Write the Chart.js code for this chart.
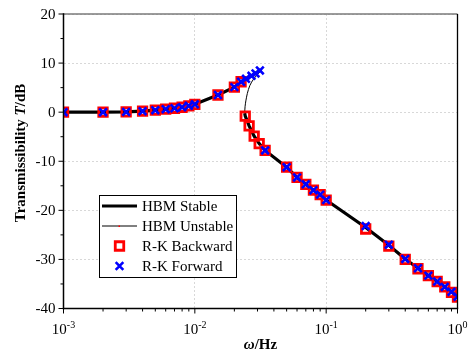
<!DOCTYPE html>
<html>
<head>
<meta charset="utf-8">
<script src="https://cdn.jsdelivr.net/npm/chart.js@4.4.0/dist/chart.umd.min.js"></script>
<style>
  html, body { margin: 0; padding: 0; background: #ffffff; }
  canvas { display: block; }
</style>
</head>
<body>
<canvas id="chart" width="472" height="353"></canvas>
<script>
// Axis ticks
const xMajorTicks = [0.001, 0.01, 0.1, 1];
const xTickExponents = ['-3', '-2', '-1', '0'];
const yMajorTicks = [-40, -30, -20, -10, 0, 10, 20];
const yMinorTicks = [-35, -25, -15, -5, 5, 15];

// HBM solution: upper stable branch, unstable branch, lower stable branch
const stableUpFreq = [0.001, 0.002, 0.003, 0.004, 0.005, 0.006, 0.007, 0.008, 0.009, 0.01, 0.015, 0.02, 0.0225, 0.0245, 0.027, 0.029, 0.0313, 0.0318];
const stableUpT    = [0, 0, 0.05, 0.2, 0.4, 0.6, 0.8, 1.0, 1.3, 1.6, 3.5, 5.1, 6.2, 6.8, 7.4, 7.9, 8.5, 8.7];
const unstableFreq = [0.0318, 0.0307, 0.0281, 0.0262, 0.0251, 0.02446, 0.02412, 0.02396];
const unstableT    = [8.7, 8.0, 6.8, 5.4, 3.8, 2.3, 1.1, -0.2];
const stableLowFreq = [0.02396, 0.0242, 0.0259, 0.0283, 0.0309, 0.0343, 0.05, 0.06, 0.07, 0.08, 0.09, 0.1, 0.2, 0.3, 0.4, 0.5, 0.6, 0.7, 0.8, 0.9, 1.0];
const stableLowT    = [-0.2, -0.8, -2.8, -4.9, -6.4, -7.8, -11.2, -13.3, -14.7, -15.9, -16.8, -17.9, -23.5, -27.1, -29.9, -31.8, -33.3, -34.5, -35.6, -36.6, -37.6];

// Runge-Kutta sweeps
const fwdFreq = [0.001, 0.002, 0.003, 0.004, 0.005, 0.006, 0.007, 0.008, 0.009, 0.01, 0.015, 0.02, 0.0225, 0.0245, 0.027, 0.029, 0.0313,
                 0.0343, 0.05, 0.06, 0.07, 0.08, 0.09, 0.1, 0.2, 0.3, 0.4, 0.5, 0.6, 0.7, 0.8, 0.9, 1.0];
const fwdT    = [0, 0, 0.05, 0.2, 0.4, 0.6, 0.8, 1.0, 1.3, 1.6, 3.5, 5.1, 6.2, 6.8, 7.4, 7.9, 8.5,
                 -7.8, -11.2, -13.3, -14.7, -15.9, -16.8, -17.9, -23.2, -27.0, -29.9, -31.8, -33.3, -34.5, -35.6, -36.6, -37.6];
const bwdFreq = [1.0, 0.9, 0.8, 0.7, 0.6, 0.5, 0.4, 0.3, 0.2, 0.1, 0.09, 0.08, 0.07, 0.06, 0.05, 0.0343, 0.0309, 0.0283, 0.0259, 0.0242,
                 0.0225, 0.02, 0.015, 0.01, 0.009, 0.008, 0.007, 0.006, 0.005, 0.004, 0.003, 0.002, 0.001];
const bwdT    = [-37.7, -36.7, -35.6, -34.5, -33.3, -31.9, -30.0, -27.3, -23.8, -17.9, -16.8, -15.9, -14.7, -13.3, -11.2, -7.8, -6.4, -4.9, -2.8, -0.8,
                 6.2, 5.1, 3.5, 1.6, 1.3, 1.0, 0.8, 0.6, 0.4, 0.2, 0.05, 0, 0];

const legendLabels = ['HBM Stable', 'HBM Unstable', 'R-K Backward', 'R-K Forward'];

const pts = (xs, ys) => xs.map((v, i) => ({ x: v, y: ys[i] }));
const stableData = pts(stableUpFreq, stableUpT).concat([{ x: 0.028, y: null }], pts(stableLowFreq, stableLowT));

const SERIF = '"Liberation Serif", "Times New Roman", serif';

function seg(ctx, x1, y1, x2, y2) {
  ctx.beginPath(); ctx.moveTo(x1, y1); ctx.lineTo(x2, y2); ctx.stroke();
}

function drawRuns(ctx, runs, x, y) {
  // runs: [[text, font], ...] drawn left to right starting at x
  let cx = x;
  runs.forEach(([t, f]) => { ctx.font = f; ctx.fillText(t, cx, y); cx += ctx.measureText(t).width; });
}
function runsWidth(ctx, runs) {
  return runs.reduce((w, [t, f]) => { ctx.font = f; return w + ctx.measureText(t).width; }, 0);
}

const axesPlugin = {
  id: 'axesDecor',
  afterDraw(chart) {
    const { ctx, chartArea: a, scales: { x, y } } = chart;
    ctx.save();
    ctx.lineCap = 'butt';

    // frame
    ctx.strokeStyle = '#7a7a7a'; ctx.lineWidth = 1.4;
    seg(ctx, a.left, a.top, a.right, a.top);
    ctx.strokeStyle = '#000'; ctx.lineWidth = 1.3;
    seg(ctx, a.right, a.top, a.right, a.bottom);
    ctx.lineWidth = 1.5;
    seg(ctx, a.left, a.top - 0.7, a.left, a.bottom + 0.7);
    seg(ctx, a.left - 0.7, a.bottom, a.right + 0.7, a.bottom);

    // tick marks
    ctx.lineWidth = 1;
    yMajorTicks.forEach(v => { const p = y.getPixelForValue(v); seg(ctx, a.left - 5, p, a.left, p); });
    yMinorTicks.forEach(v => { const p = y.getPixelForValue(v); seg(ctx, a.left - 3, p, a.left, p); });
    xMajorTicks.forEach(v => { const p = x.getPixelForValue(v); seg(ctx, p, a.bottom, p, a.bottom + 5); });
    for (let d = 0; d < xMajorTicks.length - 1; d++) {
      for (let m = 2; m <= 9; m++) {
        const p = x.getPixelForValue(xMajorTicks[d] * m);
        seg(ctx, p, a.bottom, p, a.bottom + 3);
      }
    }

    // tick labels
    ctx.fillStyle = '#000';
    ctx.font = '15px ' + SERIF;
    ctx.textAlign = 'right'; ctx.textBaseline = 'middle';
    yMajorTicks.forEach(v => ctx.fillText(String(v), a.left - 8, y.getPixelForValue(v) + 1));

    ctx.textAlign = 'left'; ctx.textBaseline = 'alphabetic';
    xMajorTicks.forEach((v, i) => {
      const runs = [['10', '15px ' + SERIF], [xTickExponents[i], '10px ' + SERIF]];
      const w = runsWidth(ctx, runs);
      const px = x.getPixelForValue(v) - w / 2;
      ctx.font = runs[0][1]; ctx.fillText(runs[0][0], px, a.bottom + 25);
      const w0 = ctx.measureText(runs[0][0]).width;
      ctx.font = runs[1][1]; ctx.fillText(runs[1][0], px + w0, a.bottom + 19);
    });

    // axis titles
    const B = 'bold 15px ' + SERIF, BI = 'italic bold 15px ' + SERIF;
    const xRuns = [['\u03c9', BI], ['/Hz', B]];
    const xw = runsWidth(ctx, xRuns);
    drawRuns(ctx, xRuns, (a.left + a.right) / 2 - xw / 2, a.bottom + 40);

    const yRuns = [['Transmissibility ', B], ['T', BI], ['/dB', B]];
    const yw = runsWidth(ctx, yRuns);
    ctx.save();
    ctx.translate(25, 153);
    ctx.rotate(-Math.PI / 2);
    drawRuns(ctx, yRuns, -yw / 2, 0);
    ctx.restore();

    // legend
    const lx = 99, ly = 195, lw = 137, lh = 82;
    ctx.fillStyle = '#fff'; ctx.fillRect(lx, ly, lw, lh);
    ctx.strokeStyle = '#000'; ctx.lineWidth = 1;
    ctx.strokeRect(lx + 0.5, ly + 0.5, lw, lh);
    const rows = [206, 226, 246, 266];
    const ds = chart.data.datasets;
    // line samples
    ctx.strokeStyle = '#000';
    ctx.lineWidth = ds[0].borderWidth; seg(ctx, 102, rows[0], 137, rows[0]);
    ctx.lineWidth = ds[1].borderWidth; seg(ctx, 102, rows[1], 137, rows[1]);
    ctx.fillStyle = '#ff0000'; ctx.fillRect(118.5, rows[1] - 0.5, 1.5, 1.5);
    // marker samples
    [2, 3].forEach((k, j) => {
      const d = ds[k];
      ctx.strokeStyle = d.borderColor; ctx.fillStyle = 'rgba(0,0,0,0)';
      ctx.lineWidth = d.borderWidth;
      Chart.helpers.drawPoint(ctx, { pointStyle: d.pointStyle, radius: d.pointRadius, rotation: 0, borderWidth: d.borderWidth }, 119.5, rows[2 + j]);
    });
    ctx.fillStyle = '#000';
    ctx.font = '15px ' + SERIF;
    ctx.textAlign = 'left'; ctx.textBaseline = 'middle';
    legendLabels.forEach((t, i) => ctx.fillText(t, 142, rows[i] + 1));

    ctx.restore();
  }
};

new Chart(document.getElementById('chart'), {
  type: 'scatter',
  data: {
    datasets: [
      { label: legendLabels[0], data: stableData, showLine: true, spanGaps: false,
        borderColor: '#000', borderWidth: 3.2, pointRadius: 0, order: 4, clip: 0 },
      { label: legendLabels[1], data: pts(unstableFreq, unstableT), showLine: true, tension: 0.3,
        borderColor: '#000', borderWidth: 1, pointRadius: 0, order: 3, clip: 0 },
      { label: legendLabels[2], data: pts(bwdFreq, bwdT), showLine: false,
        pointStyle: 'rect', pointRadius: 6, borderWidth: 2.8, borderColor: '#ff0000',
        backgroundColor: 'rgba(0,0,0,0)', order: 2, clip: 0 },
      { label: legendLabels[3], data: pts(fwdFreq, fwdT), showLine: false,
        pointStyle: 'crossRot', pointRadius: 5.4, borderWidth: 2.6, borderColor: '#0000ff',
        backgroundColor: '#0000ff', order: 1, clip: 0 }
    ]
  },
  options: {
    responsive: false,
    animation: false,
    devicePixelRatio: 1,
    layout: { padding: { left: 63.5, right: 14.5, top: 14, bottom: 44.5 } },
    plugins: { legend: { display: false }, tooltip: { enabled: false } },
    scales: {
      x: {
        type: 'logarithmic', min: 0.001, max: 1,
        afterBuildTicks: s => { s.ticks = xMajorTicks.map(v => ({ value: v })); },
        afterFit: s => { s.height = 0; },
        ticks: { display: false },
        grid: { color: '#d8d8d8', lineWidth: 1, drawTicks: false },
        border: { display: false, dash: [2, 2] }
      },
      y: {
        type: 'linear', min: -40, max: 20,
        afterBuildTicks: s => { s.ticks = yMajorTicks.map(v => ({ value: v })); },
        afterFit: s => { s.width = 0; },
        ticks: { display: false },
        grid: { color: '#d8d8d8', lineWidth: 1, drawTicks: false },
        border: { display: false, dash: [2, 2] }
      }
    }
  },
  plugins: [axesPlugin]
});
</script>
</body>
</html>
